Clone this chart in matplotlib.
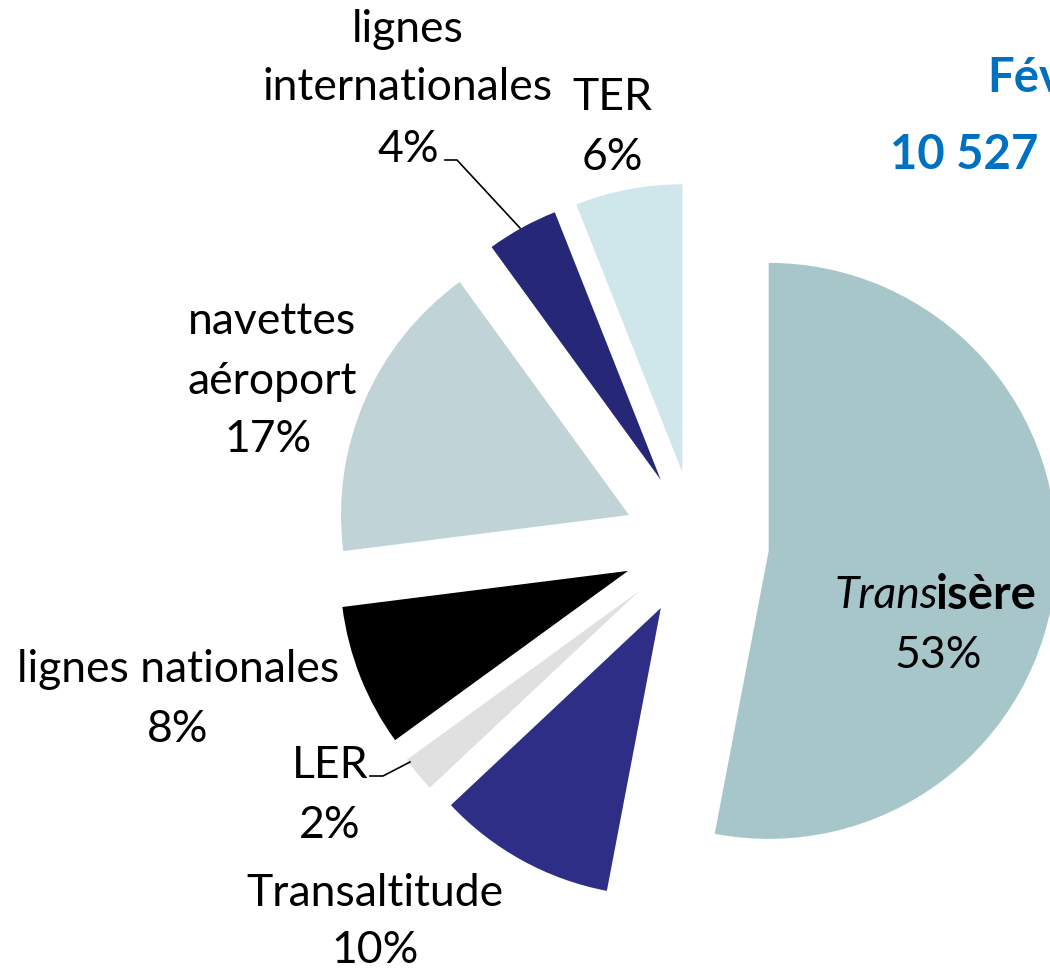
import matplotlib
matplotlib.use("Agg")
import matplotlib.pyplot as plt

# Data
categories = ["Transisère", "Transaltitude", "LER", "lignes nationales",
              "navettes aéroport", "lignes internationales", "TER"]
shares = [53, 10, 2, 8, 17, 4, 6]
colors = ["#A6C6C9", "#2E2E86", "#E0E0E0", "#000000",
          "#C0D3D6", "#272778", "#CFE6EA"]
title_lines = ["Février", "10 527 voyages"]

plt.rcParams['font.family'] = ['Lato', 'DejaVu Sans']

W, H = 1050, 971
CX, CY, R = 696, 544, 288


def px(x, y):
    # pixel position -> data coordinates
    return (x - CX) / R, (CY - y) / R


fig = plt.figure(figsize=(W / 100, H / 100), dpi=100)
ax = fig.add_axes([0, 0, 1, 1])
ax.pie(shares, colors=colors, startangle=90, counterclock=False,
       explode=[73 / R] * len(shares), radius=1,
       wedgeprops=dict(linewidth=0))
ax.set_xlim(-CX / R, (W - CX) / R)
ax.set_ylim((CY - H) / R, CY / R)
ax.set_aspect("equal")
ax.axis("off")

fs = 32
lab = dict(fontsize=fs, ha="center", va="center", color="black")

# label texts
ax.text(*px(408, 30), "lignes", **lab)
ax.text(*px(408, 88), "internationales", **lab)
ax.text(*px(408, 150), f"{shares[5]}%", **lab)
ax.text(*px(612, 98), "TER", **lab)
ax.text(*px(612, 158), f"{shares[6]}%", **lab)
ax.text(*px(272, 322), "navettes", **lab)
ax.text(*px(272, 382), "aéroport", **lab)
ax.text(*px(268, 440), f"{shares[4]}%", **lab)
ax.text(*px(178, 670), "lignes nationales", **lab)
ax.text(*px(178, 730), f"{shares[3]}%", **lab)
ax.text(*px(330, 765), "LER", **lab)
ax.text(*px(330, 825), f"{shares[2]}%", **lab)
ax.text(*px(375, 893), "Transaltitude", **lab)
ax.text(*px(375, 950), f"{shares[1]}%", **lab)
ax.text(*px(938, 595), "Trans", fontsize=fs, style="italic",
        ha="right", va="center")
ax.text(*px(936, 595), "isère", fontsize=fs + 2, weight="bold",
        ha="left", va="center")
ax.text(*px(938, 655), f"{shares[0]}%", **lab)

# leader lines
for pts in ([(445, 160), (457, 160), (520, 228)],
            [(370, 776), (383, 776), (410, 762)]):
    xs, ys = zip(*[px(x, y) for x, y in pts])
    ax.plot(xs, ys, color="black", linewidth=1.2)

# title (cut by the right edge, as in the source)
ax.text(*px(987, 78), title_lines[0], fontsize=34, weight="bold",
        color="#0070C0", ha="left", va="center")
ax.text(*px(890, 155), title_lines[1], fontsize=34, weight="bold",
        color="#0070C0", ha="left", va="center")

fig.savefig("out.png", dpi=100)
